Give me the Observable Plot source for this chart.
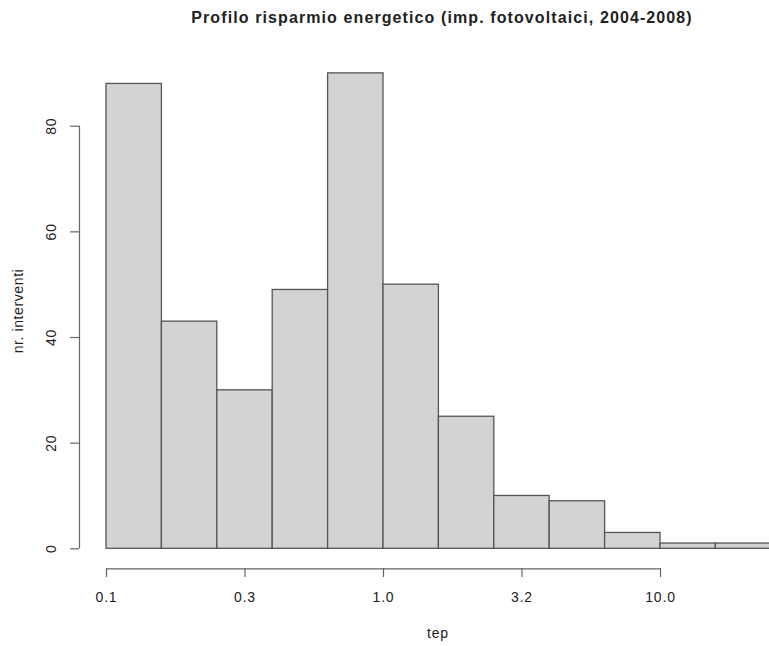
<!DOCTYPE html>
<html><head><meta charset="utf-8">
<script src="https://cdn.jsdelivr.net/npm/d3@7"></script>
<script src="https://cdn.jsdelivr.net/npm/@observablehq/plot@0.6"></script>
<style>
body{margin:0;background:#fff;font-family:"Liberation Sans",Arial,sans-serif;color:#222}
#wrap{position:relative;width:769px;height:646px;overflow:hidden;background:#fff}
#title{height:36px;position:relative}
#title span{position:absolute;left:142px;width:600px;top:8px;text-align:center;font-weight:bold;font-size:16px;line-height:20px;letter-spacing:1.1px}
#ylab{position:absolute;left:18px;top:311px;transform:translate(-50%,-50%) rotate(-90deg);font-size:14px;letter-spacing:0.6px;white-space:nowrap}
#xlab{position:absolute;left:438px;top:633px;transform:translate(-50%,-50%);font-size:14px;letter-spacing:0.8px}
</style></head>
<body>
<div id="wrap">
  <div id="title"><span>Profilo risparmio energetico (imp. fotovoltaici, 2004-2008)</span></div>
  <div id="chart"></div>
  <div id="ylab">nr. interventi</div>
  <div id="xlab">tep</div>
</div>
<script>
// histogram bins (tep, log-spaced) and counts
const binLo = [0.1, 0.1585, 0.2512, 0.3981, 0.631, 1.0, 1.585, 2.512, 3.981, 6.31, 10.0, 15.85];
const binHi = [0.1585, 0.2512, 0.3981, 0.631, 1.0, 1.585, 2.512, 3.981, 6.31, 10.0, 15.85, 25.12];
const counts = [88, 43, 30, 49, 90, 50, 25, 10, 9, 3, 1, 1];
const xTicks = [0.1, 0.3162, 1.0, 3.162, 10.0];
const xTickLabels = ["0.1", "0.3", "1.0", "3.2", "10.0"];
const yTicks = [0, 20, 40, 60, 80];

const bins = counts.map((c, i) => ({lo: binLo[i], hi: binHi[i], n: c}));
const xLab = new Map(xTicks.map((t, i) => [t, xTickLabels[i]]));
const T = 36;

const chart = Plot.plot({
  width: 769, height: 646 - T,
  marginLeft: 79, marginRight: 0, marginTop: 0, marginBottom: 78,
  style: {fontFamily: "'Liberation Sans', Arial, sans-serif", fontSize: "14px", letterSpacing: "0.8px", color: "#222", background: "white"},
  x: {type: "log", domain: [0.1, 10], range: [106, 660]},
  y: {domain: [0, 80], range: [548.3 - T, 125.7 - T]},
  marks: [
    Plot.rectY(bins, {x1: "lo", x2: "hi", y: "n", fill: "#d3d3d3", stroke: "#555", strokeWidth: 1.3}),
    Plot.ruleY([0], {x1: xTicks[0], x2: xTicks[xTicks.length - 1], dy: 20, stroke: "#666", strokeWidth: 1.2}),
    Plot.axisX({ticks: xTicks, tickFormat: d => xLab.get(d), tickSize: 9, tickPadding: 15, label: null, stroke: "#666", strokeWidth: 1.2}),
    Plot.ruleX([xTicks[0]], {y1: yTicks[0], y2: yTicks[yTicks.length - 1], dx: -27, stroke: "#666", strokeWidth: 1.2}),
    Plot.axisY({ticks: yTicks, tickSize: 9, tickRotate: -90, tickPadding: 15, label: null, stroke: "#666", strokeWidth: 1.2})
  ]
});
document.getElementById("chart").appendChild(chart);
</script>
</body></html>
